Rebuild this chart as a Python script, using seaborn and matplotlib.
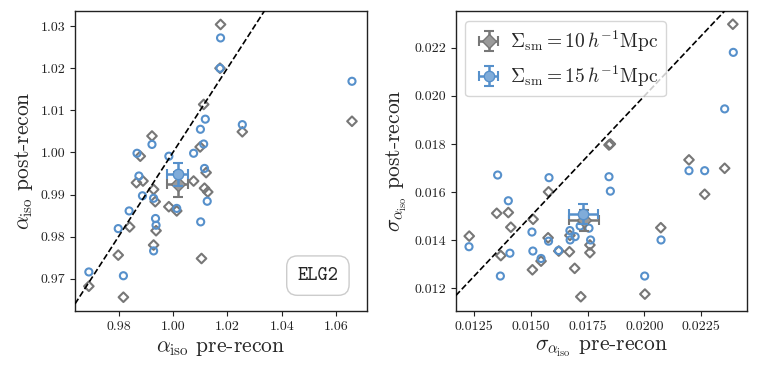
import numpy as np
import matplotlib
matplotlib.use("Agg")
import matplotlib.pyplot as plt
import seaborn as sns

# alpha_iso: pre-recon vs post-recon, smoothing 10 Mpc/h (diamonds)
alpha_pre_10 = [1.0175, 1.0173, 1.0658, 1.0113, 1.0255, 0.9923, 1.0100, 0.9880, 1.0122,
                1.0076, 0.9866, 0.9890, 1.0116, 1.0128, 0.9929, 0.9935, 0.9985, 1.0014,
                0.9841, 0.9938, 0.9929, 0.9799, 1.0105, 0.9691, 0.9818]
alpha_post_10 = [1.0304, 1.0200, 1.0074, 1.0114, 1.0049, 1.0039, 1.0013, 0.9991, 0.9952,
                 0.9932, 0.9928, 0.9932, 0.9915, 0.9906, 0.9912, 0.9883, 0.9871, 0.9861,
                 0.9823, 0.9814, 0.9780, 0.9756, 0.9748, 0.9682, 0.9656]
# smoothing 15 Mpc/h (circles)
alpha_pre_15 = [1.0175, 1.0173, 1.0658, 1.0119, 1.0101, 1.0255, 0.9923, 1.0113, 0.9868,
                0.9985, 1.0076, 1.0116, 0.9875, 0.9888, 0.9929, 1.0126, 0.9839, 1.0014,
                1.0102, 0.9936, 0.9938, 0.9799, 0.9929, 0.9691, 0.9818]
alpha_post_15 = [1.0272, 1.0200, 1.0169, 1.0079, 1.0055, 1.0066, 1.0019, 1.0020, 0.9998,
                 0.9991, 0.9998, 0.9962, 0.9944, 0.9897, 0.9891, 0.9884, 0.9861, 0.9867,
                 0.9835, 0.9843, 0.9827, 0.9819, 0.9766, 0.9716, 0.9707]

# sigma(alpha_iso): pre-recon vs post-recon
sigma_pre_10 = [0.02389, 0.01844, 0.01850, 0.02196, 0.02353, 0.02265, 0.01578, 0.01350,
                0.01401, 0.01412, 0.01510, 0.01576, 0.01672, 0.01229, 0.01368, 0.01545,
                0.01623, 0.01670, 0.01760, 0.01760, 0.01507, 0.01693, 0.01720, 0.02072,
                0.02002]
sigma_post_10 = [0.02298, 0.01796, 0.01800, 0.01734, 0.01699, 0.01591, 0.01601, 0.01512,
                 0.01515, 0.01454, 0.01487, 0.01410, 0.01420, 0.01417, 0.01336, 0.01313,
                 0.01355, 0.01352, 0.01380, 0.01348, 0.01277, 0.01283, 0.01165, 0.01452,
                 0.01176]
sigma_pre_15 = [0.02391, 0.02353, 0.02196, 0.02265, 0.01354, 0.01580, 0.01844, 0.01850,
                0.01401, 0.01505, 0.01717, 0.01756, 0.01672, 0.01695, 0.01673, 0.01578,
                0.01763, 0.01228, 0.01408, 0.01509, 0.01545, 0.01622, 0.01366, 0.02073,
                0.02001]
sigma_post_15 = [0.02181, 0.01946, 0.01689, 0.01689, 0.01671, 0.01660, 0.01664, 0.01604,
                 0.01564, 0.01434, 0.01459, 0.01450, 0.01440, 0.01415, 0.01401, 0.01396,
                 0.01401, 0.01373, 0.01346, 0.01355, 0.01324, 0.01357, 0.01251, 0.01401,
                 0.01251]

# means with errors [x, y, xerr, yerr]
alpha_mean_10 = [1.0018, 0.9924, 0.0039, 0.0029]
alpha_mean_15 = [1.0018, 0.9948, 0.0039, 0.0028]
sigma_mean_10 = [0.01734, 0.01483, 0.00064, 0.00044]
sigma_mean_15 = [0.01731, 0.01508, 0.00064, 0.00042]

labels = [r"$\Sigma_{\rm sm} = 10\,h^{-1}{\rm Mpc}$", r"$\Sigma_{\rm sm} = 15\,h^{-1}{\rm Mpc}$"]

sns.set_style("ticks")
plt.rcParams["font.family"] = ["cmr10", "DejaVu Serif"]
plt.rcParams["mathtext.fontset"] = "cm"
plt.rcParams["axes.formatter.use_mathtext"] = True
plt.rcParams["axes.edgecolor"] = "#222222"
plt.rcParams["axes.linewidth"] = 1.0
plt.rcParams["xtick.color"] = "#222222"
plt.rcParams["ytick.color"] = "#222222"
plt.rcParams["xtick.major.size"] = 3.5
plt.rcParams["ytick.major.size"] = 3.5

gray = "#777777"
blue = "#5690cb"

fig = plt.figure(figsize=(7.58, 3.74), dpi=100)
ax1 = fig.add_axes([0.0989, 0.1693, 0.3852, 0.8013])
ax2 = fig.add_axes([0.6012, 0.1693, 0.3839, 0.8013])


def draw_panel(ax, x10, y10, x15, y15, m10, m15):
    sns.scatterplot(x=x10, y=y10, marker="D", s=24, facecolor="none", edgecolor=gray,
                    linewidth=1.5, ax=ax, zorder=2)
    sns.scatterplot(x=x15, y=y15, marker="o", s=26, facecolor="none", edgecolor=blue,
                    linewidth=1.5, ax=ax, zorder=2)
    h10 = ax.errorbar(m10[0], m10[1], xerr=m10[2], yerr=m10[3], fmt="D", ms=7.5,
                      color=gray, mfc="#9a9a9a", mec=gray, elinewidth=1.8, capsize=3.5,
                      capthick=1.5, zorder=4)
    h15 = ax.errorbar(m15[0], m15[1], xerr=m15[2], yerr=m15[3], fmt="o", ms=7.5,
                      color=blue, mfc="#80acd9", mec=blue, elinewidth=1.8, capsize=3.5,
                      capthick=1.5, zorder=5)
    ax.axline((0.01, 0.01), slope=1, color="k", ls="--", lw=1.2, zorder=3)
    return h10, h15


draw_panel(ax1, alpha_pre_10, alpha_post_10, alpha_pre_15, alpha_post_15,
           alpha_mean_10, alpha_mean_15)
ax1.set_xlim(0.964, 1.0713)
ax1.set_ylim(0.9624, 1.0336)
ax1.set_xticks([0.98, 1.00, 1.02, 1.04, 1.06])
ax1.set_yticks([0.97, 0.98, 0.99, 1.00, 1.01, 1.02, 1.03])
ax1.set_xticklabels(["0.98", "1.00", "1.02", "1.04", "1.06"])
ax1.set_yticklabels(["0.97", "0.98", "0.99", "1.00", "1.01", "1.02", "1.03"])
ax1.set_xlabel(r"$\alpha_{\rm iso}$ pre-recon", fontsize=15.5)
ax1.set_ylabel(r"$\alpha_{\rm iso}$ post-recon", fontsize=15.5)
ax1.text(0.832, 0.117, "ELG2", transform=ax1.transAxes, ha="center", va="center",
         fontsize=14, family=["cmtt10", "DejaVu Sans Mono"],
         bbox=dict(boxstyle="round,pad=0.55", fc="white", ec="#cccccc", lw=1.0))

h10, h15 = draw_panel(ax2, sigma_pre_10, sigma_post_10, sigma_pre_15, sigma_post_15,
                      sigma_mean_10, sigma_mean_15)
ax2.set_xlim(0.011695, 0.0245)
ax2.set_ylim(0.01107, 0.02353)
ax2.set_xticks([0.0125, 0.0150, 0.0175, 0.0200, 0.0225])
ax2.set_yticks([0.012, 0.014, 0.016, 0.018, 0.020, 0.022])
ax2.set_xticklabels(["0.0125", "0.0150", "0.0175", "0.0200", "0.0225"])
ax2.set_yticklabels(["0.012", "0.014", "0.016", "0.018", "0.020", "0.022"])
ax2.set_xlabel(r"$\sigma_{\alpha_{\rm iso}}$ pre-recon", fontsize=15.5)
ax2.set_ylabel(r"$\sigma_{\alpha_{\rm iso}}$ post-recon", fontsize=15.5)
ax2.legend([h10, h15], labels, loc="upper left", fontsize=14, frameon=True,
           handletextpad=0.3, borderaxespad=0.5, handlelength=1.6)

for ax in (ax1, ax2):
    ax.tick_params(labelsize=10)

fig.savefig("out.png", dpi=100)
